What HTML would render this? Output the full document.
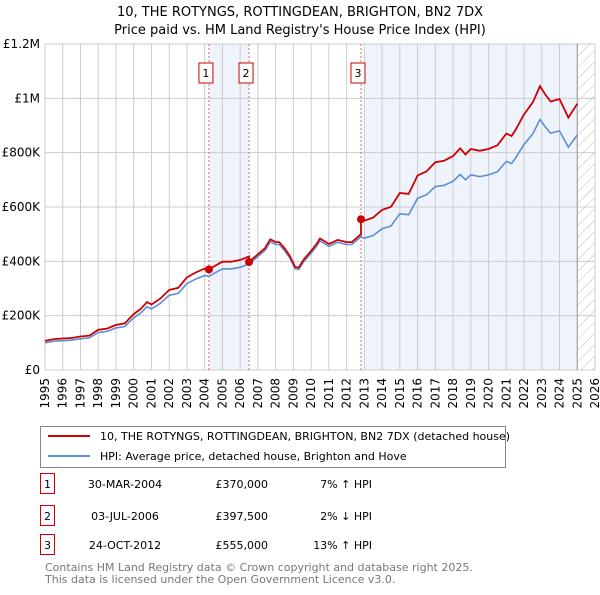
<!DOCTYPE html>
<html><head><meta charset="utf-8"><style>
body{margin:0;background:#fff;font-family:"Liberation Sans","DejaVu Sans",sans-serif;}
svg text{font-family:"DejaVu Sans","Liberation Sans",sans-serif;}
</style></head><body>
<svg id="chart" width="600" height="590" xmlns="http://www.w3.org/2000/svg">
<defs><pattern id="hatch" width="8" height="8" patternUnits="userSpaceOnUse" patternTransform="rotate(45)"><line x1="0" y1="0" x2="0" y2="8" stroke="#bbb" stroke-width="1"/></pattern></defs>
<text x="300" y="16" text-anchor="middle" font-size="13" fill="#000">10, THE ROTYNGS, ROTTINGDEAN, BRIGHTON, BN2 7DX</text>
<text x="300" y="34" text-anchor="middle" font-size="13" fill="#000">Price paid vs. HM Land Registry's House Price Index (HPI)</text>
<g id="plot"></g>
<rect x="40.5" y="426.5" width="465" height="41" fill="#fff" stroke="#888"/>
<line x1="48" y1="436" x2="90" y2="436" stroke="#cc0000" stroke-width="2"/>
<text x="100" y="440" font-size="11">10, THE ROTYNGS, ROTTINGDEAN, BRIGHTON, BN2 7DX (detached house)</text>
<line x1="48" y1="456" x2="90" y2="456" stroke="#5b8fd4" stroke-width="2"/>
<text x="100" y="460" font-size="11">HPI: Average price, detached house, Brighton and Hove</text>
<g id="table" font-size="11"></g>
<text x="45" y="571" font-size="11" fill="#777">Contains HM Land Registry data © Crown copyright and database right 2025.</text>
<text x="45" y="583" font-size="11" fill="#777">This data is licensed under the Open Government Licence v3.0.</text>
</svg>
<script>
const hpiYears=[1995,1995.5,1996,1996.5,1997,1997.5,1998,1998.5,1999,1999.5,2000,2000.4,2000.75,2001,2001.5,2002,2002.5,2003,2003.5,2004,2004.25,2004.6,2005,2005.5,2006,2006.5,2007,2007.4,2007.7,2008,2008.2,2008.5,2008.8,2009.1,2009.3,2009.6,2010,2010.3,2010.5,2011,2011.5,2012,2012.3,2012.8,2013,2013.5,2014,2014.5,2015,2015.5,2016,2016.5,2017,2017.5,2018,2018.4,2018.7,2019,2019.5,2020,2020.5,2021,2021.3,2021.5,2022,2022.5,2022.9,2023.2,2023.5,2024,2024.5,2025];
const hpiValues=[100000,106000,108000,110000,115000,118000,138000,142000,155000,160000,192000,210000,233000,225000,245000,275000,282000,318000,335000,348000,345000,358000,372000,372000,378000,390000,418000,440000,472000,462000,462000,440000,412000,372000,370000,400000,430000,455000,475000,455000,470000,462000,462000,490000,485000,495000,520000,530000,575000,572000,632000,645000,675000,680000,695000,720000,700000,718000,712000,718000,730000,768000,760000,778000,830000,870000,922000,895000,872000,880000,820000,865000];
const saleYears=[2004.24,2006.5,2012.81];
const salePrices=[370000,397500,555000];
const saleDates=["30-MAR-2004","03-JUL-2006","24-OCT-2012"];
const salePriceLabels=["£370,000","£397,500","£555,000"];
const saleHpiLabels=["7% ↑ HPI","2% ↓ HPI","13% ↑ HPI"];
const yTicks=[0,200000,400000,600000,800000,1000000,1200000];
const yTickLabels=["£0","£200K","£400K","£600K","£800K","£1M","£1.2M"];
const xTicks=[1995,1996,1997,1998,1999,2000,2001,2002,2003,2004,2005,2006,2007,2008,2009,2010,2011,2012,2013,2014,2015,2016,2017,2018,2019,2020,2021,2022,2023,2024,2025,2026];

const NS="http://www.w3.org/2000/svg";
const X0=45,X1=595,Y0=370,Y1=44;
const x=t=>X0+(t-1995)/31*(X1-X0);
const y=v=>Y0-v/1200000*(Y0-Y1);
const plot=document.getElementById('plot');
function mk(tag,attrs,parent){const e=document.createElementNS(NS,tag);for(const k in attrs)e.setAttribute(k,attrs[k]);(parent||plot).appendChild(e);return e;}
function hpiAt(t){for(let i=0;i<hpiYears.length-1;i++){if(t<=hpiYears[i+1]){const f=(t-hpiYears[i])/(hpiYears[i+1]-hpiYears[i]);return hpiValues[i]+f*(hpiValues[i+1]-hpiValues[i]);}}return hpiValues[hpiValues.length-1];}

let s=mk('rect',{x:x(saleYears[0]),y:Y1,width:x(saleYears[1])-x(saleYears[0]),height:Y0-Y1,fill:'#eef3fc'});


s=mk('rect',{x:x(2013),y:Y1,width:x(2025)-x(2013),height:Y0-Y1,fill:'#eef3fc'});


s=mk('rect',{x:x(2025),y:Y1,width:X1-x(2025),height:Y0-Y1,fill:'url(#hatch)'});



yTicks.forEach((v,i)=>{
 const l=mk('line',{x1:X0,x2:X1,y1:y(v),y2:y(v),stroke:'#ccc','stroke-width':1});
 
 
 const t=mk('text',{x:X0-5,y:y(v)+4,'text-anchor':'end','font-size':12});
 
 
 t.textContent=yTickLabels[i];
});
xTicks.forEach(yr=>{
 const l=mk('line',{x1:x(yr),x2:x(yr),y1:Y1,y2:Y0,stroke:'#ccc','stroke-width':1});
 
 
 const t=mk('text',{x:0,y:0,'text-anchor':'end','font-size':12,transform:`translate(${x(yr)+4},${Y0+8}) rotate(-90)`});
 
 
 t.textContent=yr;
});
let l=mk('line',{x1:x(2025),x2:x(2025),y1:Y1,y2:Y0,stroke:'#999','stroke-width':1});



// sale vertical lines
saleYears.forEach((t,i)=>{
 const v=mk('line',{x1:x(t),x2:x(t),y1:Y1,y2:Y0,stroke:'#e06666','stroke-width':1,'stroke-dasharray':'2,2'});
 
 
 const b=mk('rect',{x:x(t)-10,y:63,width:14,height:20,fill:'#fff',stroke:'#cc0000'});
 
 
 const tx=mk('text',{x:x(t)-3,y:77,'text-anchor':'middle','font-size':11});
 
 
 tx.textContent=i+1;
});

// HPI line
let d=hpiYears.map((t,i)=>(i?'L':'M')+x(t).toFixed(1)+','+y(hpiValues[i]).toFixed(1)).join('');
let p=mk('path',{d:d,fill:'none',stroke:'#5b8fd4','stroke-width':1.6});



// property line: indexed HPI anchored on each sale
function propAt(t){let k=0;for(let i=0;i<saleYears.length;i++)if(t>=saleYears[i])k=i;return hpiAt(t)*salePrices[k]/hpiAt(saleYears[k]);}
let pts=[];
const allT=hpiYears.concat(saleYears).sort((a,b)=>a-b);
allT.forEach(t=>{
 const idx=saleYears.indexOf(t);
 if(idx>0){pts.push([t,hpiAt(t)*salePrices[idx-1]/hpiAt(saleYears[idx-1])]);}
 pts.push([t,propAt(t)]);
});
d=pts.map((q,i)=>(i?'L':'M')+x(q[0]).toFixed(1)+','+y(q[1]).toFixed(1)).join('');
p=mk('path',{d:d,fill:'none',stroke:'#cc0000','stroke-width':1.8});


saleYears.forEach((t,i)=>{
 const c=mk('circle',{cx:x(t),cy:y(salePrices[i]),r:4,fill:'#cc0000'});
 
 
});

// table
const tb=document.getElementById('table');
const rowY=[484,516,545];
saleDates.forEach((dt,i)=>{
 const r=mk('rect',{x:40.5,y:rowY[i]-10.5,width:14,height:20,fill:'#fff',stroke:'#cc0000'},tb);
 
 
 let t=mk('text',{x:47.5,y:rowY[i]+4,'text-anchor':'middle'},tb);
 
 
 t.textContent=i+1;
 t=mk('text',{x:125,y:rowY[i]+4,'text-anchor':'middle'},tb);
 
 
 t.textContent=dt;
 t=mk('text',{x:268,y:rowY[i]+4,'text-anchor':'end'},tb);
 
 
 t.textContent=salePriceLabels[i];
 t=mk('text',{x:372,y:rowY[i]+4,'text-anchor':'end'},tb);
 
 
 t.textContent=saleHpiLabels[i];
});
</script>
</body></html>
